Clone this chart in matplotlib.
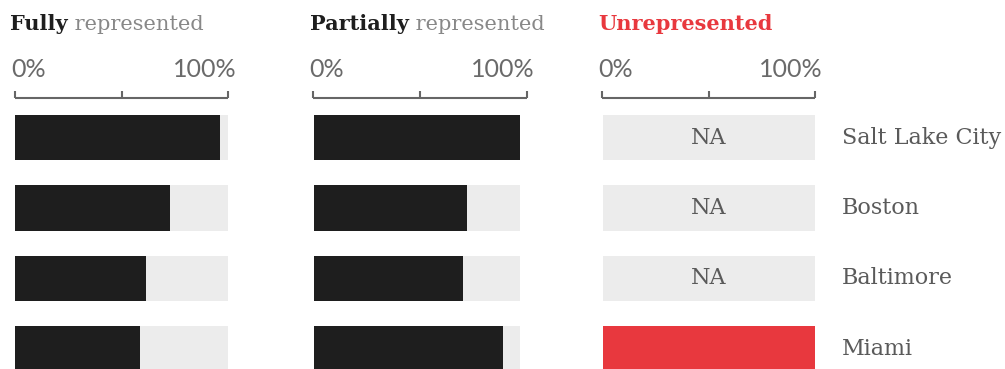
import matplotlib
matplotlib.use('Agg')
import matplotlib.pyplot as plt
import numpy as np

# share of each city's population, in percent
cities = ["Salt Lake City", "Boston", "Baltimore", "Miami"]
fully = [96.6, 72.6, 61.5, 58.5]
partially = [100.0, 74.0, 72.0, 91.7]
unrepresented = [None, None, None, 100.0]

titles = [("Fully", " represented"), ("Partially", " represented"), ("Unrepresented", "")]
series = [fully, partially, unrepresented]

DARK = '#1e1e1e'
GREY_BG = '#ececec'
RED = '#e8383e'
TEXT = '#5a5a5a'
SERIF = 'DejaVu Serif'

W, H = 1005, 369
fig = plt.figure(figsize=(W / 100, H / 100), dpi=100)

def px_rect(x0, x1, y0, y1):
    # pixel box (top-left origin) -> figure fraction rect
    return [x0 / W, 1 - y1 / H, (x1 - x0) / W, (y1 - y0) / H]

# bar area / ruler extents per panel, in pixels
bar_x = [(15.3, 227.7), (314.3, 520.3), (602.7, 815.3)]
ruler_x = [(15.3, 228.3), (313.3, 526.7), (602.0, 815.0)]
title_x = [10, 310, 598]

row_h = 70.33
bar_h = 45.3 / row_h
top_px = 137.7 - row_h / 2
y_pos = np.arange(len(cities))
ylim = ((H - 137.7) / row_h, -0.5)

for k in range(3):
    ax = fig.add_axes(px_rect(bar_x[k][0], bar_x[k][1], top_px, H))
    vals = series[k]
    for i, v in enumerate(vals):
        ax.barh(y_pos[i], 100, height=bar_h, color=GREY_BG, lw=0)
        if v is None:
            ax.text(50, y_pos[i], "NA", ha='center', va='center', fontsize=16,
                    family=SERIF, color=TEXT)
        else:
            col = RED if k == 2 else DARK
            ax.barh(y_pos[i], v, height=bar_h, color=col, lw=0)
    ax.set_xlim(0, 100)
    ax.set_ylim(*ylim)
    ax.axis('off')

    # ruler with 0 / 50 / 100 ticks
    r = fig.add_axes(px_rect(ruler_x[k][0], ruler_x[k][1], 85, 97.7))
    r.set_xlim(0, 100)
    r.set_ylim(0, 1)
    for s in ['top', 'left', 'right']:
        r.spines[s].set_visible(False)
    r.spines['bottom'].set_color('#666666')
    r.spines['bottom'].set_linewidth(1.5)
    r.spines['bottom'].set_capstyle('butt')
    r.set_xticks([0, 50, 100])
    r.tick_params(axis='x', direction='in', length=5, width=1.5, color='#666666',
                  labelbottom=False)
    r.set_yticks([])
    r.patch.set_alpha(0)
    fig.text(ruler_x[k][0] / W - 4 / W, 1 - 77 / H, "0%", ha='left', va='baseline',
             fontsize=18, family='Lato', color='#6a6a6a')
    fig.text(ruler_x[k][1] / W + 8 / W, 1 - 77 / H, "100%", ha='right', va='baseline',
             fontsize=18, family='Lato', color='#6a6a6a')

    # panel heading: bold word, then the rest in grey right after it
    bold, rest = titles[k]
    t = fig.text(title_x[k] / W, 1 - 30 / H, bold, ha='left', va='baseline',
                 fontsize=15, family=SERIF, weight='bold',
                 color=RED if k == 2 else DARK)
    if rest:
        ax.annotate(rest, xy=(1, 0), xycoords=t, va='bottom', ha='left',
                    fontsize=15, family=SERIF, color='#888888',
                    annotation_clip=False)

# city labels to the right
lab = fig.add_axes(px_rect(842, 1005, top_px, H))
lab.set_xlim(0, 1)
lab.set_ylim(*ylim)
lab.axis('off')
for i, c in enumerate(cities):
    lab.text(0, y_pos[i], c, ha='left', va='center', fontsize=16, family=SERIF,
             color=TEXT)

fig.savefig('out.png', dpi=100)
